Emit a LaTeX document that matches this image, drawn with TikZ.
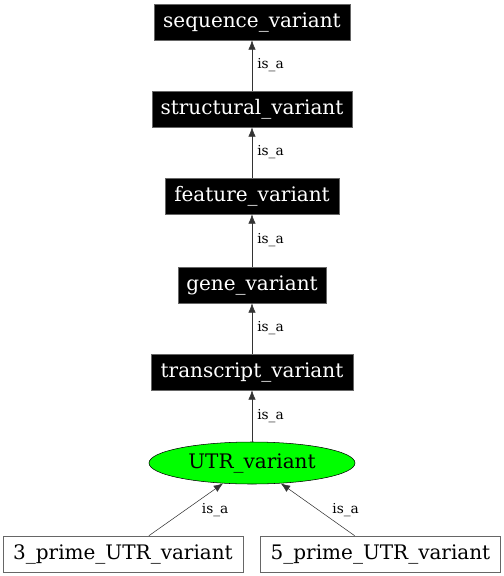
\documentclass[tikz,border=0pt]{standalone}
\usepackage{fontspec}
\setmainfont{DejaVu Serif}
\usetikzlibrary{shapes.geometric,arrows.meta}
\tikzset{
  termbox/.style={draw=black!60, fill=black, text=white, font=\fontsize{15}{17}\selectfont,
    minimum height=27pt, inner sep=0pt},
  leafbox/.style={draw=black!60, fill=white, font=\fontsize{15}{17}\selectfont,
    minimum height=27pt, inner sep=0pt},
  focusnode/.style={ellipse, draw=black, fill=green, font=\fontsize{15}{17}\selectfont,
    minimum width=154.5pt, minimum height=31.5pt, inner sep=0pt},
  isa/.style={draw=black!80, -{Latex[length=7pt,width=5.5pt]}},
  isalabel/.style={font=\fontsize{10.3}{12}\selectfont, anchor=west, inner sep=1pt, xshift=2.75pt}
}
\begin{document}
\begin{tikzpicture}[x=0.75pt, y=-0.75pt]
        \useasboundingbox (0,0) rectangle (504,576);
        % ontology terms
        \node[termbox, minimum width=147pt] (seqvar) at (252,22) {sequence\_variant};
        \node[termbox, minimum width=150pt] (structvar) at (252,109) {structural\_variant};
        \node[termbox, minimum width=130.5pt] (featvar) at (252,196) {feature\_variant};
        \node[termbox, minimum width=111pt] (genevar) at (252,285) {gene\_variant};
        \node[termbox, minimum width=151.5pt] (txvar) at (252,372) {transcript\_variant};
        \node[focusnode] (utrvar) at (252,463) {UTR\_variant};
        % children
        \node[leafbox, minimum width=180pt] (utrthree) at (123,554) {3\_prime\_UTR\_variant};
        \node[leafbox, minimum width=180pt] (utrfive) at (380.5,554) {5\_prime\_UTR\_variant};
        % is_a edges
        \draw[isa] (structvar) -- node[isalabel] {is\_a} (seqvar);
        \draw[isa] (featvar) -- node[isalabel] {is\_a} (structvar);
        \draw[isa] (genevar) -- node[isalabel] {is\_a} (featvar);
        \draw[isa] (txvar) -- node[isalabel] {is\_a} (genevar);
        \draw[isa] (utrvar) -- node[isalabel] {is\_a} (txvar);
        \draw[isa] (utrthree) -- node[isalabel, xshift=8pt] {is\_a} (utrvar);
        \draw[isa] (utrfive) -- node[isalabel, xshift=7pt] {is\_a} (utrvar);
\end{tikzpicture}
\end{document}
